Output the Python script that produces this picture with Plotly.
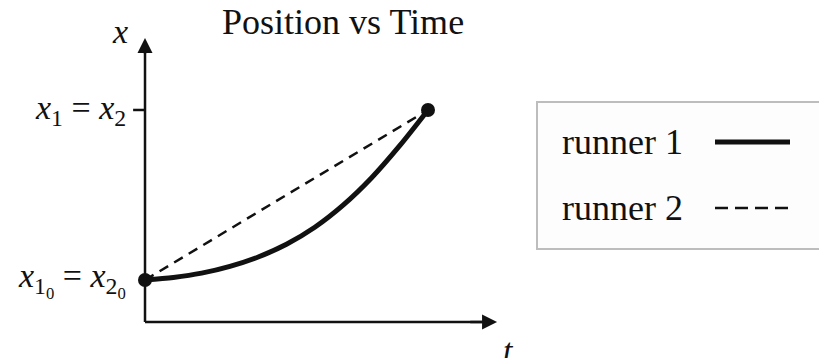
import plotly.graph_objects as go

# Sampled positions (normalised) for the two runners over normalised time
time_r1 = [0.0, 0.1, 0.2, 0.3, 0.4, 0.5, 0.6, 0.7, 0.8, 0.9, 1.0]
pos_r1 = [0.0, 0.015, 0.04, 0.08, 0.135, 0.21, 0.31, 0.44, 0.60, 0.79, 1.0]
time_r2 = [0.0, 1.0]
pos_r2 = [0.0, 1.0]
endpoint_t = [0.0, 1.0]
endpoint_x = [0.0, 1.0]
series_names = ["runner 1", "runner 2"]
tick_vals = [0.0, 1.0]
tick_text = [
    "<i>x</i><sub>1<sub>0</sub></sub> = <i>x</i><sub>2<sub>0</sub></sub>",
    "<i>x</i><sub>1</sub> = <i>x</i><sub>2</sub>",
]

FONT = "Liberation Serif, Times New Roman, serif"
INK = "#111111"

# axis geometry in data units
X_RANGE = [-0.5124, 2.3816]
Y_RANGE = [-0.459, 1.647]
AXIS_Y = -0.247      # level of the time axis
T_END = 1.244        # tip of the time-axis arrow
X_TOP = 1.424        # tip of the position-axis arrow

fig = go.Figure()

fig.add_trace(go.Scatter(
    x=time_r2, y=pos_r2, mode="lines", name=series_names[1],
    line=dict(color=INK, width=2.5, dash="10px,7px"), showlegend=False))
fig.add_trace(go.Scatter(
    x=time_r1, y=pos_r1, mode="lines", name=series_names[0],
    line=dict(color=INK, width=5, shape="spline", smoothing=0.8), showlegend=False))
fig.add_trace(go.Scatter(
    x=endpoint_t, y=endpoint_x, mode="markers",
    marker=dict(color=INK, size=14), showlegend=False))

shapes = [
    # vertical (position) axis
    dict(type="line", xref="x", yref="y", x0=0, x1=0, y0=AXIS_Y, y1=X_TOP - 0.05,
         line=dict(color=INK, width=2.5)),
    # horizontal (time) axis
    dict(type="line", xref="x", yref="y", x0=0, x1=T_END - 0.03, y0=AXIS_Y, y1=AXIS_Y,
         line=dict(color=INK, width=2.5)),
]
# tick marks on the position axis
for v in tick_vals[1:]:
    shapes.append(dict(type="line", xref="x", yref="y", x0=-0.042, x1=0, y0=v, y1=v,
                       line=dict(color=INK, width=2.5)))

annotations = [
    dict(x=0, y=X_TOP, ax=0, ay=X_TOP - 0.1, xref="x", yref="y", axref="x", ayref="y",
         text="", showarrow=True, arrowhead=2, arrowsize=1.2, arrowwidth=2.5,
         arrowcolor=INK),
    dict(x=T_END, y=AXIS_Y, ax=T_END - 0.1, ay=AXIS_Y, xref="x", yref="y",
         axref="x", ayref="y", text="", showarrow=True, arrowhead=2, arrowsize=1.2,
         arrowwidth=2.5, arrowcolor=INK),
    dict(x=-0.09, y=1.46, xref="x", yref="y", text="<i>x</i>", showarrow=False,
         font=dict(family=FONT, size=34, color=INK)),
    dict(x=T_END + 0.04, y=AXIS_Y - 0.17, xref="x", yref="y", text="<i>t</i>",
         showarrow=False, font=dict(family=FONT, size=34, color=INK)),
    dict(x=0.419, y=1.0, xref="paper", yref="paper", yanchor="top", text="Position vs Time",
         showarrow=False, font=dict(family=FONT, size=36, color=INK)),
]
for v, t in zip(tick_vals, tick_text):
    annotations.append(dict(x=-0.06, y=v, xref="x", yref="y", xanchor="right",
                            yanchor="middle", text=t, showarrow=False,
                            font=dict(family=FONT, size=34, color=INK)))

# legend box with the text on the left and the line sample on the right
shapes.append(dict(type="rect", xref="paper", yref="paper",
                   x0=537 / 819, x1=1.01, y0=1 - 249 / 358, y1=1 - 102 / 358,
                   line=dict(color="#bdbdbd", width=2), fillcolor="#fdfdfd", layer="below"))
legend_rows = [(series_names[0], 142, dict(color=INK, width=5)),
               (series_names[1], 208, dict(color=INK, width=2.5, dash="13px,7px"))]
for name, ypx, style in legend_rows:
    annotations.append(dict(x=560 / 819, y=1 - ypx / 358, xref="paper", yref="paper",
                            xanchor="left", yanchor="middle", text=name, showarrow=False,
                            font=dict(family=FONT, size=36, color=INK)))
    shapes.append(dict(type="line", xref="paper", yref="paper",
                       x0=715 / 819, x1=790 / 819, y0=1 - ypx / 358, y1=1 - ypx / 358,
                       line=style))

fig.update_layout(
    width=819, height=358,
    margin=dict(l=0, r=0, t=0, b=0),
    paper_bgcolor="white", plot_bgcolor="white",
    xaxis=dict(range=X_RANGE, visible=False, fixedrange=True),
    yaxis=dict(range=Y_RANGE, visible=False, fixedrange=True),
    shapes=shapes, annotations=annotations,
    showlegend=False,
)

fig.write_html("out.html")
